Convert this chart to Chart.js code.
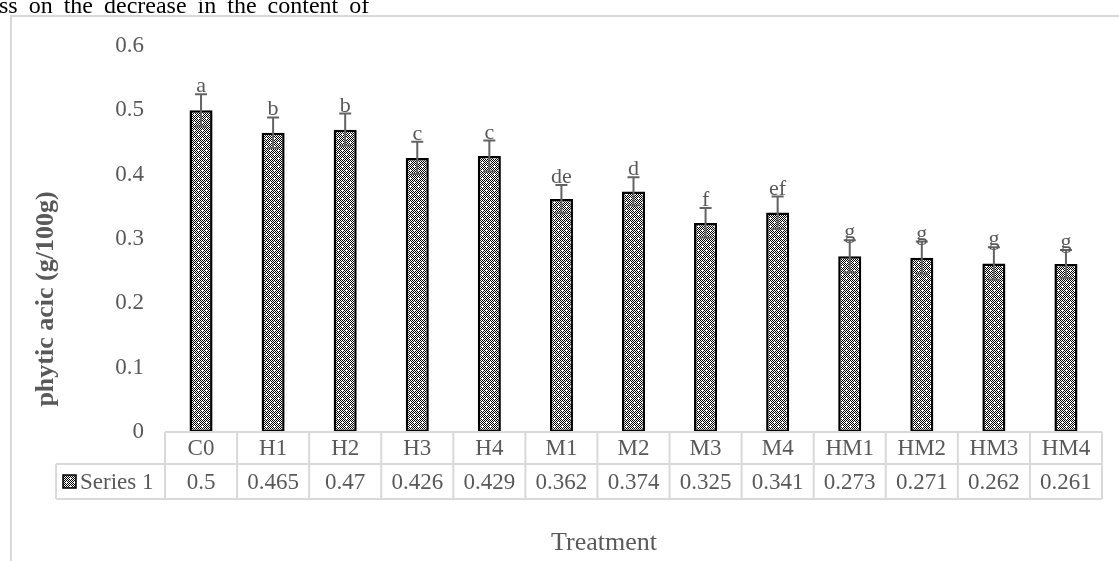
<!DOCTYPE html>
<html>
<head>
<meta charset="utf-8">
<script src="https://cdn.jsdelivr.net/npm/chart.js@4.4.1/dist/chart.umd.min.js"></script>
<style>
  html, body { margin: 0; padding: 0; background: #fff; overflow: hidden; }
  #wrap { position: relative; width: 1119px; height: 561px; }
  #topText {
    position: absolute; left: -1px; top: -7px;
    font-family: "Liberation Serif", serif; font-size: 24px; line-height: 24px;
    word-spacing: 5px; color: #000; white-space: nowrap;
  }
  canvas { position: absolute; left: 0; top: 0; }
</style>
</head>
<body>
<div id="wrap">
  <canvas id="grafico" width="1119" height="561"></canvas>
  <div id="topText">ss on the decrease in the content of</div>
</div>
<script>
// datos del gráfico
const tratamientos = ["C0", "H1", "H2", "H3", "H4", "M1", "M2", "M3", "M4", "HM1", "HM2", "HM3", "HM4"];
const valores = [0.5, 0.465, 0.47, 0.426, 0.429, 0.362, 0.374, 0.325, 0.341, 0.273, 0.271, 0.262, 0.261];
const errores = [0.025, 0.024, 0.025, 0.025, 0.024, 0.022, 0.022, 0.023, 0.025, 0.025, 0.025, 0.025, 0.022];
const letras = ["a", "b", "b", "c", "c", "de", "d", "f", "ef", "g", "g", "g", "g"];
const ticksY = [0, 0.1, 0.2, 0.3, 0.4, 0.5, 0.6];
const nombreSerie = "Series 1";

const fuente = '"Liberation Serif", "Times New Roman", serif';
const gris = "#595959";
const lineaTabla = "#d9d9d9";

const canvas = document.getElementById("grafico");
const ctx = canvas.getContext("2d");

// patrón a cuadros (como el relleno de Excel)
function crearPatron() {
  const t = document.createElement("canvas");
  t.width = 8; t.height = 8;
  const g = t.getContext("2d");
  g.fillStyle = "#fff";
  g.fillRect(0, 0, 8, 8);
  g.fillStyle = "#000";
  for (let y = 0; y < 8; y++) {
    for (let x = 0; x < 8; x++) {
      if ((x + y) % 2 === 0) g.fillRect(x, y, 1, 1);
    }
  }
  g.fillStyle = "#fff";
  [[2, 2], [6, 6]].forEach(([x, y]) => {
    g.fillRect(x - 1, y, 3, 1);
    g.fillRect(x, y - 1, 1, 3);
  });
  return ctx.createPattern(t, "repeat");
}
const patron = crearPatron();

// marco gris del gráfico
const marco = {
  id: "marco",
  beforeDraw(chart) {
    const c = chart.ctx;
    c.save();
    c.strokeStyle = lineaTabla;
    c.lineWidth = 2;
    c.beginPath();
    c.moveTo(11, 561);
    c.lineTo(11, 16);
    c.lineTo(1119, 16);
    c.stroke();
    c.restore();
  }
};

// barras de error y letras
const barrasError = {
  id: "barrasError",
  afterDatasetsDraw(chart) {
    const c = chart.ctx;
    const meta = chart.getDatasetMeta(0);
    const y = chart.scales.y;
    c.save();
    c.strokeStyle = "#636363";
    c.lineWidth = 2;
    meta.data.forEach((bar, i) => {
      const x = bar.x;
      const arriba = y.getPixelForValue(valores[i] + errores[i]);
      const abajo = y.getPixelForValue(valores[i] - errores[i]);
      c.beginPath();
      c.moveTo(x, arriba); c.lineTo(x, abajo);
      c.moveTo(x - 6, arriba); c.lineTo(x + 6, arriba);
      c.moveTo(x - 6, abajo); c.lineTo(x + 6, abajo);
      c.stroke();
      c.fillStyle = gris;
      c.font = "22px " + fuente;
      c.textAlign = "center";
      c.textBaseline = "alphabetic";
      c.fillText(letras[i], x, arriba - 2);
    });
    c.restore();
  }
};

// tabla de datos debajo del eje x + títulos
const tablaDatos = {
  id: "tablaDatos",
  afterDraw(chart) {
    const c = chart.ctx;
    const area = chart.chartArea;
    const xs = chart.scales.x;
    const ancho = (area.right - area.left) / tratamientos.length;
    const y0 = area.bottom, y1 = y0 + 32, y2 = y1 + 35;
    const izq = 56;
    c.save();
    c.strokeStyle = lineaTabla;
    c.lineWidth = 2;
    c.beginPath();
    c.moveTo(area.left, y0); c.lineTo(area.right, y0);
    c.moveTo(izq, y1); c.lineTo(area.right, y1);
    c.moveTo(izq, y2); c.lineTo(area.right, y2);
    c.moveTo(izq, y1); c.lineTo(izq, y2);
    for (let i = 0; i <= tratamientos.length; i++) {
      const x = area.left + i * ancho;
      c.moveTo(x, y0); c.lineTo(x, y2);
    }
    c.stroke();

    c.fillStyle = gris;
    c.font = "23px " + fuente;
    c.textAlign = "center";
    c.textBaseline = "middle";
    tratamientos.forEach((t, i) => {
      const x = xs.getPixelForValue(i);
      c.fillText(t, x, (y0 + y1) / 2 + 1);
      c.fillText(String(valores[i]), x, (y1 + y2) / 2 + 1);
    });

    // leyenda dentro de la tabla
    c.fillStyle = patron;
    c.fillRect(63, 475, 13, 13);
    c.strokeStyle = "#000";
    c.lineWidth = 1.5;
    c.strokeRect(63, 475, 13, 13);
    c.fillStyle = gris;
    c.textAlign = "left";
    c.fillText(nombreSerie, 80, (y1 + y2) / 2 + 1);

    // título eje x
    c.font = "26px " + fuente;
    c.textAlign = "center";
    c.fillText("Treatment", 604, 543);

    // título eje y
    c.translate(46, 299);
    c.rotate(-Math.PI / 2);
    c.font = "bold 26px " + fuente;
    c.fillText("phytic acic (g/100g)", 0, 0);
    c.restore();
  }
};

new Chart(canvas, {
  type: "bar",
  data: {
    labels: tratamientos,
    datasets: [{
      label: nombreSerie,
      data: valores,
      backgroundColor: patron,
      borderColor: "#000",
      borderWidth: 2.5,
      borderSkipped: false,
      categoryPercentage: 1,
      barPercentage: 0.32
    }]
  },
  options: {
    responsive: false,
    animation: false,
    layout: { padding: { left: 0, right: 17, top: 46, bottom: 129 } },
    plugins: { legend: { display: false }, tooltip: { enabled: false } },
    scales: {
      x: { display: false },
      y: {
        min: 0,
        max: 0.6,
        afterFit(scale) { scale.width = 165; },
        afterBuildTicks(scale) { scale.ticks = ticksY.map(v => ({ value: v })); },
        grid: { display: false, drawTicks: false },
        border: { display: false },
        ticks: { color: gris, padding: 21, font: { family: fuente, size: 23 } }
      }
    }
  },
  plugins: [marco, barrasError, tablaDatos]
});
</script>
</body>
</html>
